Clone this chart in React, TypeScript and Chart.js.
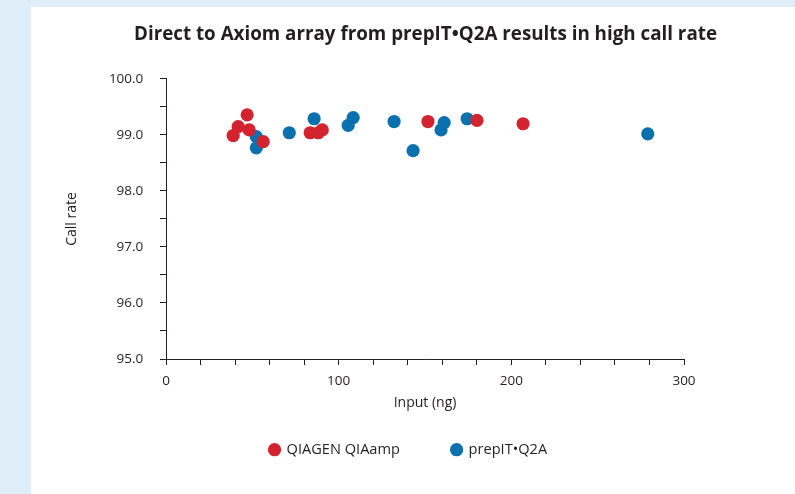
import React, { useEffect, useRef } from 'react';
import { Chart, registerables } from 'chart.js';

Chart.register(...registerables);

const chartTitle = 'Direct to Axiom array from prepIT•Q2A results in high call rate';
const xAxisTitle = 'Input (ng)';
const yAxisTitle = 'Call rate';
const seriesNames = ['QIAGEN QIAamp', 'prepIT•Q2A'];
const seriesColors = ['#d2232f', '#0a70ae'];

const qiagenInput = [38.9, 41.8, 47.0, 48.2, 56.3, 83.5, 88.2, 90.5, 151.7, 180.1, 206.8];
const qiagenCallRate = [98.99, 99.15, 99.36, 99.09, 98.88, 99.04, 99.04, 99.09, 99.24, 99.26, 99.2];
const prepitInput = [52.3, 52.3, 71.4, 85.8, 105.5, 108.4, 132.1, 143.1, 159.3, 161.1, 174.4, 279.0];
const prepitCallRate = [98.97, 98.77, 99.04, 99.29, 99.17, 99.31, 99.24, 98.72, 99.09, 99.22, 99.29, 99.02];

const xMin = 0;
const xMax = 300;
const xStep = 20;
const xLabelEvery = 100;
const yMin = 95;
const yMax = 100;
const yStep = 0.5;

const FONT = "'Open Sans', 'Noto Sans', sans-serif";
const TEXT = '#231f20';

// shifts the legend block a little to the left of the chart-area centre
const legendOffset = {
  id: 'legendOffset',
  afterLayout(chart: any) {
    const l = chart.legend;
    if (l) {
      l.left -= 17;
      l.right -= 17;
    }
  },
};

export default function App() {
  const ref = useRef<HTMLCanvasElement | null>(null);

  useEffect(() => {
    if (!ref.current) return;
    const toPoints = (xs: number[], ys: number[]) => xs.map((x, i) => ({ x, y: ys[i] }));
    const chart = new Chart(ref.current, {
      type: 'scatter',
      plugins: [legendOffset],
      data: {
        datasets: [
          {
            label: seriesNames[0],
            data: toPoints(qiagenInput, qiagenCallRate),
            backgroundColor: seriesColors[0],
            borderColor: seriesColors[0],
            borderWidth: 0,
            pointRadius: 6.6,
            pointHoverRadius: 6.6,
            pointStyle: 'circle',
          },
          {
            label: seriesNames[1],
            data: toPoints(prepitInput, prepitCallRate),
            backgroundColor: seriesColors[1],
            borderColor: seriesColors[1],
            borderWidth: 0,
            pointRadius: 6.6,
            pointHoverRadius: 6.6,
            pointStyle: 'circle',
          },
        ],
      },
      options: {
        responsive: false,
        animation: false,
        events: [],
        layout: { padding: { left: 25, right: 0, top: 0, bottom: 27 } },
        plugins: {
          tooltip: { enabled: false },
          title: {
            display: true,
            text: chartTitle,
            fullSize: true,
            color: TEXT,
            font: { family: FONT, size: 18.8, weight: 'bold', lineHeight: 1.2 },
            padding: { top: 16.7, bottom: 32.7 },
          },
          legend: {
            display: true,
            position: 'bottom',
            fullSize: true,
            labels: {
              usePointStyle: true,
              pointStyle: 'circle',
              boxWidth: 9.4,
              boxHeight: 9.4,
              padding: 52,
              color: TEXT,
              font: { family: FONT, size: 14.6, lineHeight: 1.2 },
            },
          },
        },
        scales: {
          x: {
            type: 'linear',
            position: 'bottom',
            min: xMin,
            max: xMax,
            afterFit: (s: any) => {
              s.height = 31.4;
            },
            border: { display: true, color: TEXT, width: 1 },
            grid: {
              display: true,
              drawOnChartArea: false,
              drawTicks: true,
              tickLength: 6,
              color: TEXT,
            },
            ticks: {
              stepSize: xStep,
              autoSkip: false,
              maxRotation: 0,
              padding: 8,
              color: TEXT,
              font: { family: FONT, size: 13.5, lineHeight: 1.2 },
              callback: (v: any) => (Number(v) % xLabelEvery === 0 ? String(v) : ''),
            },
            title: {
              display: true,
              text: xAxisTitle,
              color: TEXT,
              font: { family: FONT, size: 14, lineHeight: 1.2 },
              padding: { top: 0, bottom: -21 },
            },
          },
          y: {
            type: 'linear',
            position: 'left',
            min: yMin,
            max: yMax,
            afterFit: (s: any) => {
              s.width = 110;
            },
            border: { display: true, color: TEXT, width: 1 },
            grid: {
              display: true,
              drawOnChartArea: false,
              drawTicks: true,
              tickLength: 6,
              color: TEXT,
            },
            ticks: {
              stepSize: yStep,
              autoSkip: false,
              padding: 16.7,
              color: TEXT,
              font: { family: FONT, size: 13.5, lineHeight: 1.2 },
              callback: (v: any) => (Number(v) % 1 === 0 ? Number(v).toFixed(1) : ''),
            },
            title: {
              display: true,
              text: yAxisTitle,
              color: TEXT,
              font: { family: FONT, size: 14, lineHeight: 1.2 },
              padding: { top: 7.6, bottom: 0 },
            },
          },
          spacer: {
            type: 'linear',
            position: 'right',
            display: true,
            afterFit: (s: any) => {
              s.width = 111;
            },
            border: { display: false },
            grid: { display: false },
            ticks: { display: false },
          },
        },
      },
    });
    return () => chart.destroy();
  }, []);

  return (
    <div style={{ position: 'fixed', left: 0, top: 0, width: 795, height: 494, background: '#deedf7' }}>
      <div style={{ position: 'absolute', left: 31, top: 7, width: 764, height: 487, background: '#ffffff' }}>
        <canvas ref={ref} width={764} height={487} style={{ display: 'block', width: 764, height: 487 }} />
      </div>
    </div>
  );
}
